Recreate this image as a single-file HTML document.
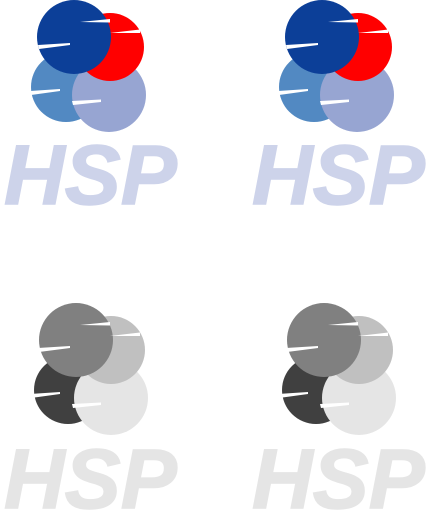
<!DOCTYPE html>
<html><head><meta charset="utf-8"><style>
html,body{margin:0;padding:0;background:#fff;width:428px;height:511px;overflow:hidden}
svg text{font-family:"Liberation Sans",sans-serif;font-weight:bold;font-style:italic}
</style></head><body>
<svg width="428" height="511" viewBox="0 0 428 511">
<defs>
<g id="slits">
<polygon points="38,45 70,43 70,45 39,49" fill="#fff"/>
<polygon points="80,22 110,19 110,22.5" fill="#fff"/>
<polygon points="110,33 140,29.5 140,33" fill="#fff"/>
<polygon points="30,91 60,89 60,91 31,95" fill="#fff"/>
<polygon points="72,101 101,99.5 101,102 73,105" fill="#fff"/>
</g>
</defs>
<g>
<circle cx="66" cy="87" r="35" fill="#5289c2"/>
<circle cx="109" cy="95" r="37" fill="#97a5d2"/>
<circle cx="110" cy="47" r="34" fill="#ff0000"/>
<circle cx="74" cy="37" r="37" fill="#0c3f98"/>
<use href="#slits"/>
<text x="4" y="204" font-size="84" fill="#cdd3ea" stroke="#cdd3ea" stroke-width="1.5">HSP</text>
</g>
<g transform="translate(248,0)">
<circle cx="66" cy="87" r="35" fill="#5289c2"/>
<circle cx="109" cy="95" r="37" fill="#97a5d2"/>
<circle cx="110" cy="47" r="34" fill="#ff0000"/>
<circle cx="74" cy="37" r="37" fill="#0c3f98"/>
<use href="#slits"/>
<text x="4" y="204" font-size="84" fill="#cdd3ea" stroke="#cdd3ea" stroke-width="1.5">HSP</text>
</g>
<g transform="translate(0,303)">
<circle cx="68" cy="87" r="34" fill="#404040"/>
<circle cx="111" cy="95" r="37" fill="#e5e5e5"/>
<circle cx="111" cy="47" r="34" fill="#c0c0c0"/>
<circle cx="76" cy="37" r="37" fill="#808080"/>
<use href="#slits"/>
<text x="4" y="205" font-size="84" fill="#e5e5e5" stroke="#e5e5e5" stroke-width="1.5">HSP</text>
</g>
<g transform="translate(248,303)">
<circle cx="68" cy="87" r="34" fill="#404040"/>
<circle cx="111" cy="95" r="37" fill="#e5e5e5"/>
<circle cx="111" cy="47" r="34" fill="#c0c0c0"/>
<circle cx="76" cy="37" r="37" fill="#808080"/>
<use href="#slits"/>
<text x="4" y="205" font-size="84" fill="#e5e5e5" stroke="#e5e5e5" stroke-width="1.5">HSP</text>
</g>
</svg>
</body></html>
